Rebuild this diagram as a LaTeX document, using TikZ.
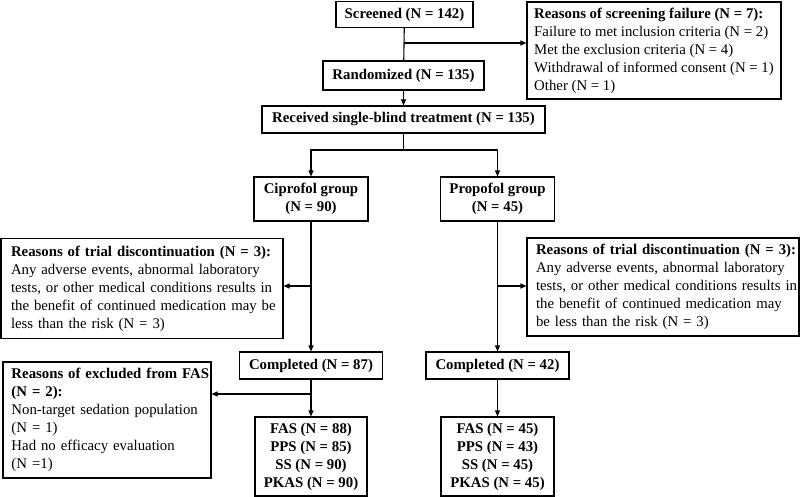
\documentclass[tikz,border=0pt]{standalone}
\usepackage{fontspec}
\setmainfont{Liberation Serif}
\usetikzlibrary{arrows.meta}
\newcommand\fs{\fontsize{14.8pt}{18pt}\selectfont}
\newcommand\jl[1]{\makebox[\linewidth][s]{#1}}
\newcommand\hl[1]{\makebox[\linewidth][l]{\bfseries #1}}
\begin{document}
\begin{tikzpicture}[x=1pt,y=-1pt,
  box/.style={draw, line width=1.1pt, inner sep=0pt, align=center, font=\fs},
  bbox/.style={box, font=\fs\bfseries},
  tbox/.style={box, align=left},
  conn/.style={line width=1.1pt},
  arr/.style={conn, -{Triangle[length=6pt,width=5pt]}}]
\useasboundingbox (0,0) rectangle (800,497);
% boxes
\node[bbox, minimum width=137pt, minimum height=26pt] (scr) at (404.5,14.5) {Screened (N = 142)};
\node[tbox, minimum width=254pt, minimum height=97pt] (r1) at (654,50.5)
  {\textbf{Reasons of screening failure (N = 7):}\\
   Failure to met inclusion criteria (N = 2)\\
   Met the exclusion criteria (N = 4)\\
   Withdrawal of informed consent (N = 1)\\
   Other (N = 1)};
\node[bbox, minimum width=161pt, minimum height=29pt] (rand) at (403.5,75.5) {Randomized (N = 135)};
\node[bbox, minimum width=283pt, minimum height=27pt] (recv) at (403.5,119.5) {Received single-blind treatment (N = 135)};
\node[bbox, minimum width=114pt, minimum height=44pt] (cip) at (311,199) {Ciprofol group\\(N = 90)};
\node[bbox, minimum width=114pt, minimum height=44pt] (prop) at (497.5,199) {Propofol group\\(N = 45)};
\node[tbox, minimum width=282pt, minimum height=100pt, text width=262pt] (disc1) at (142,288.5)
  {\hl{Reasons of trial discontinuation (N = 3):}\\
   \jl{Any adverse events, abnormal laboratory}\\
   \jl{tests, or other medical conditions results in}\\
   \jl{the benefit of continued medication may be}\\
   less than the risk (N = 3)};
\node[tbox, minimum width=272pt, minimum height=98pt, text width=254pt] (disc2) at (663,287)
  {\hl{Reasons of trial discontinuation (N = 3):}\\
   \jl{Any adverse events, abnormal laboratory}\\
   \jl{tests, or other medical conditions results in}\\
   \jl{the benefit of continued medication may}\\
   be less than the risk (N = 3)};
\node[bbox, minimum width=143pt, minimum height=27pt] (comp1) at (311,365.5) {Completed (N = 87)};
\node[bbox, minimum width=143pt, minimum height=27pt] (comp2) at (497.5,365.5) {Completed (N = 42)};
\node[tbox, minimum width=208pt, minimum height=116pt, text width=191pt] (excl) at (107,420)
  {\textbf{\jl{Reasons of excluded from FAS}}\\
   \textbf{(N = 2):}\\
   \jl{Non-target sedation population}\\
   (N = 1)\\
   Had no efficacy evaluation\\
   (N =1)};
\node[bbox, minimum width=112pt, minimum height=79pt] (fas1) at (311,456.5)
  {FAS (N = 88)\\PPS (N = 85)\\SS (N = 90)\\PKAS (N = 90)};
\node[bbox, minimum width=113pt, minimum height=79pt] (fas2) at (497.5,456.5)
  {FAS (N = 45)\\PPS (N = 43)\\SS (N = 45)\\PKAS (N = 45)};
% connectors
\coordinate (b1) at (403.5,43);
\draw[conn] (scr) -- (rand);
\draw[arr] (b1) -- (b1 -| r1.west);
\draw[arr] (rand) -- (recv);
\coordinate (s1) at (403.5,150);
\draw[conn] (recv) -- (s1);
\draw[arr] (s1) -| (cip.north);
\draw[arr] (s1) -| (prop.north);
\draw[arr] (cip) -- (comp1);
\coordinate (d1) at (311,286);
\draw[arr] (d1) -- (d1 -| disc1.east);
\draw[arr] (prop) -- (comp2);
\coordinate (d2) at (497.5,286);
\draw[arr] (d2) -- (d2 -| disc2.west);
\draw[arr] (comp1) -- (fas1);
\coordinate (e1) at (311,394);
\draw[arr] (e1) -- (e1 -| excl.east);
\draw[arr] (comp2) -- (fas2);
\end{tikzpicture}
\end{document}
